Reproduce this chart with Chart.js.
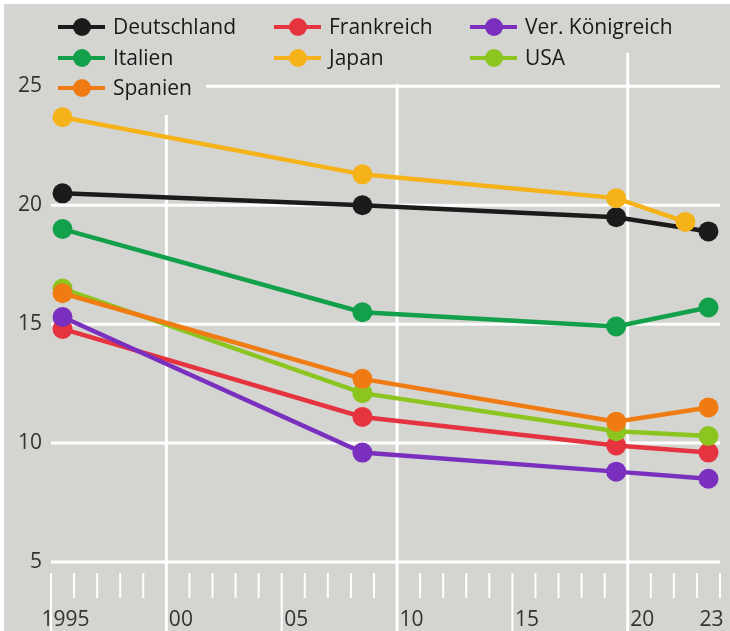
<!DOCTYPE html>
<html>
<head>
<meta charset="utf-8">
<script src="https://cdn.jsdelivr.net/npm/chart.js@4.4.1/dist/chart.umd.min.js"></script>
<style>
  html, body { margin: 0; padding: 0; background: #fff; }
  canvas { display: block; }
</style>
</head>
<body>
<canvas id="chart" width="730" height="631"></canvas>
<script>
// years with data (Japan ends one year earlier)
const years = [1995, 2008, 2019, 2023];
const japanYears = [1995, 2008, 2019, 2022];

const deutschland = [20.5, 20.0, 19.5, 18.9];
const frankreich = [14.8, 11.1, 9.9, 9.6];
const koenigreich = [15.3, 9.6, 8.8, 8.5];
const italien = [19.0, 15.5, 14.9, 15.7];
const japan = [23.7, 21.3, 20.3, 19.3];
const usa = [16.5, 12.1, 10.5, 10.3];
const spanien = [16.3, 12.7, 10.9, 11.5];

const seriesNames = ['Deutschland', 'Frankreich', 'Ver. Königreich', 'Italien', 'Japan', 'USA', 'Spanien'];
const seriesColors = ['#1c1a1a', '#e5333f', '#7a2fbf', '#13a04a', '#f6b219', '#8cc51f', '#f07b12'];
const seriesValues = [deutschland, frankreich, koenigreich, italien, japan, usa, spanien];
const seriesYears = [years, years, years, years, japanYears, years, years];

const yTicks = [5, 10, 15, 20, 25];
const xTickYears = [1995, 2000, 2005, 2010, 2015, 2020, 2023];
const xTickLabels = ['1995', '00', '05', '10', '15', '20', '23'];

const BG = '#d4d4d1';
const FONT = "'Open Sans', sans-serif";

const datasets = seriesNames.map((name, i) => ({
    label: name,
    data: seriesValues[i].map((v, j) => ({ x: seriesYears[i][j], y: v })),
    borderColor: seriesColors[i],
    backgroundColor: seriesColors[i],
    pointBackgroundColor: seriesColors[i],
    pointBorderWidth: 0,
    pointRadius: 10,
    borderWidth: 4.5,
    order: seriesNames.length - i // later series drawn on top
}));

// grey panel, white grid, year ticks, and the grey patches behind the legend
const backdrop = {
    id: 'backdrop',
    beforeDraw(chart) {
        const ctx = chart.ctx;
        const xs = chart.scales.x, ys = chart.scales.y;
        const area = chart.chartArea;
        const y5 = ys.getPixelForValue(5);
        ctx.save();
        ctx.fillStyle = '#fff';
        ctx.fillRect(0, 0, chart.width, chart.height);
        ctx.fillStyle = BG;
        ctx.fillRect(4, 4, chart.width - 4, chart.height - 4);

        ctx.strokeStyle = '#fff';
        ctx.lineWidth = 3;
        yTicks.forEach(v => {
            const y = ys.getPixelForValue(v);
            ctx.beginPath();
            ctx.moveTo(area.left, y);
            ctx.lineTo(area.right, y);
            ctx.stroke();
        });
        // year boundaries (points sit mid-year)
        for (let b = 1995; b <= 2024; b++) {
            const x = xs.getPixelForValue(b - 0.5);
            ctx.beginPath();
            if (b % 10 === 0) {
                ctx.lineWidth = 3;
                ctx.moveTo(x, area.top);
                ctx.lineTo(x, chart.height);
            } else if (b % 5 === 0) {
                ctx.lineWidth = 2;
                ctx.moveTo(x, y5 + 11);
                ctx.lineTo(x, chart.height);
            } else {
                ctx.lineWidth = 2;
                ctx.moveTo(x, y5 + 11);
                ctx.lineTo(x, y5 + 36);
            }
            ctx.stroke();
        }
        // legend cut-outs
        ctx.fillStyle = BG;
        ctx.fillRect(4, 4, 202, 111);
        ctx.fillRect(206, 4, 256, 80);
        ctx.fillRect(462, 4, chart.width - 462, 49);
        ctx.restore();
    }
};

const legendColumns = [58, 274, 470];
const legendRows = [27, 58, 88];

const customLegend = {
    id: 'customLegend',
    afterDatasetsDraw(chart) {
        const ctx = chart.ctx;
        ctx.save();
        ctx.font = '21px ' + FONT;
        ctx.textBaseline = 'middle';
        ctx.textAlign = 'left';
        seriesNames.forEach((name, i) => {
            const x = legendColumns[i % 3];
            const y = legendRows[Math.floor(i / 3)];
            ctx.strokeStyle = seriesColors[i];
            ctx.lineWidth = 4;
            ctx.beginPath();
            ctx.moveTo(x, y);
            ctx.lineTo(x + 47, y);
            ctx.stroke();
            ctx.fillStyle = seriesColors[i];
            ctx.beginPath();
            ctx.arc(x + 24, y, 9, 0, Math.PI * 2);
            ctx.fill();
            ctx.fillStyle = '#1a1a1a';
            ctx.fillText(name, x + 55, y + 1);
        });
        ctx.restore();
    }
};

new Chart(document.getElementById('chart').getContext('2d'), {
    type: 'line',
    data: { datasets: datasets },
    options: {
        responsive: false,
        animation: false,
        devicePixelRatio: 1,
        layout: { padding: { top: 15, right: 7, left: 0, bottom: 0 } },
        plugins: {
            legend: { display: false },
            tooltip: { enabled: false }
        },
        scales: {
            x: {
                type: 'linear',
                min: 1994.5,
                max: 2023.5,
                border: { display: false },
                grid: { display: false, drawTicks: false },
                afterBuildTicks(scale) {
                    scale.ticks = xTickYears.map(v => ({ value: v }));
                },
                afterFit(scale) {
                    scale.height = 69;
                    scale.paddingLeft = 0;
                    scale.paddingRight = 0;
                },
                ticks: {
                    autoSkip: false,
                    maxRotation: 0,
                    padding: 45,
                    labelOffset: 3,
                    color: '#333',
                    font: { family: FONT, size: 21 },
                    callback: (v) => xTickLabels[xTickYears.indexOf(v)]
                }
            },
            y: {
                min: 5,
                max: 28,
                border: { display: false },
                grid: { display: false, drawTicks: false },
                afterBuildTicks(scale) {
                    scale.ticks = yTicks.map(v => ({ value: v }));
                },
                afterFit(scale) {
                    scale.width = 51;
                    scale.paddingTop = 0;
                    scale.paddingBottom = 0;
                },
                ticks: {
                    padding: 9,
                    color: '#333',
                    font: { family: FONT, size: 21 }
                }
            }
        }
    },
    plugins: [backdrop, customLegend]
});
</script>
</body>
</html>
